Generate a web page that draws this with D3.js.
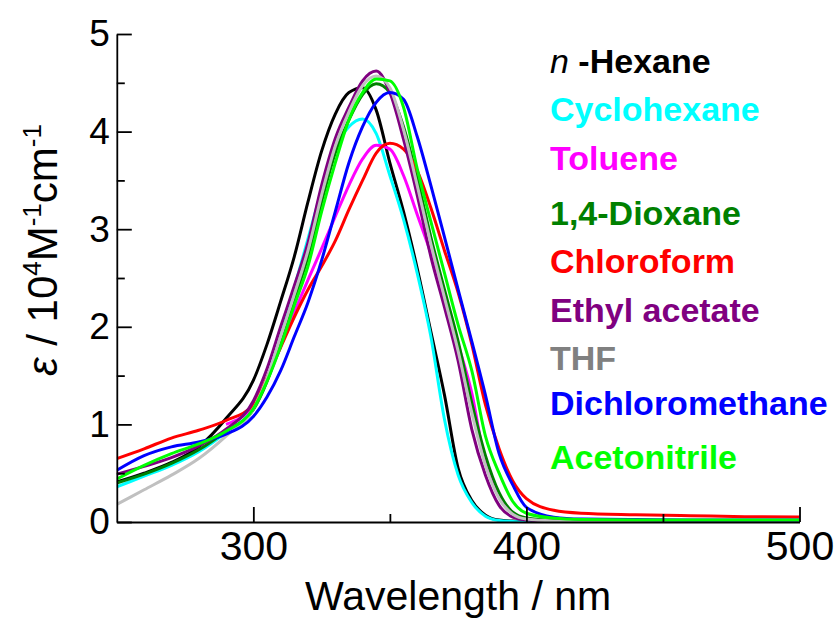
<!DOCTYPE html>
<html>
<head>
<meta charset="utf-8">
<script src="https://cdn.jsdelivr.net/npm/d3@7"></script>
<style>
  html, body { margin: 0; padding: 0; background: #fff; }
  svg { display: block; font-family: "Liberation Sans", Arial, sans-serif; }
</style>
</head>
<body>
<svg id="chart" width="837" height="619"></svg>
<script>
// ---------------- data ----------------
const wavelengths = [250,260,270,280,290,300,305,310,315,320,325,330,335,340,345,350,355,360,365,370,375,380,385,390,395,400,410,420,440,460,480,500];

const hexane = [0.41,0.50,0.61,0.77,1.06,1.45,1.82,2.26,2.72,3.28,3.80,4.18,4.40,4.45,4.22,3.68,3.18,2.60,1.95,1.30,0.55,0.22,0.07,0.02,0.01,0.005,0,0,0,0,0,0];
const cyclohexane = [0.36,0.47,0.58,0.72,0.92,1.17,1.47,1.90,2.40,2.90,3.40,3.83,4.05,4.13,3.98,3.55,3.10,2.55,1.90,1.05,0.48,0.20,0.06,0.015,0.005,0,0,0,0,0,0,0];
const toluene = [null,null,null,null,1.00,1.20,1.45,1.80,2.15,2.48,2.80,3.13,3.45,3.72,3.86,3.82,3.55,3.15,2.75,2.28,1.82,1.32,0.60,0.28,0.09,0.03,0.01,0.005,0,0,0,0];
const dioxane = [0.40,0.49,0.60,0.74,0.93,1.15,1.44,1.85,2.28,2.72,3.28,3.78,4.12,4.38,4.49,4.40,4.05,3.52,2.92,2.38,1.85,1.22,0.68,0.30,0.10,0.04,0.015,0.01,0.005,0.005,0.005,0.005];
const chloroform = [0.65,0.75,0.86,0.94,1.04,1.20,1.48,1.79,2.10,2.38,2.62,2.88,3.20,3.50,3.78,3.88,3.82,3.60,3.22,2.78,2.35,1.82,1.20,0.75,0.42,0.24,0.12,0.09,0.075,0.065,0.055,0.05];
const ethylAcetate = [0.49,0.57,0.66,0.78,0.95,1.24,1.57,2.00,2.42,2.86,3.45,3.93,4.25,4.52,4.62,4.40,3.92,3.35,2.72,2.20,1.65,0.95,0.48,0.17,0.05,0.02,0.01,0.005,0,0,0,0];
const thf = [0.18,0.33,0.48,0.65,0.88,1.16,1.47,1.90,2.33,2.78,3.35,3.85,4.20,4.47,4.57,4.45,4.02,3.45,2.85,2.30,1.75,1.12,0.58,0.24,0.08,0.03,0.01,0.005,0,0,0,0];
const dichloromethane = [0.53,0.68,0.77,0.82,0.90,1.08,1.28,1.55,1.90,2.25,2.68,3.18,3.68,4.05,4.30,4.40,4.33,3.95,3.45,2.92,2.38,1.85,1.30,0.70,0.38,0.15,0.05,0.03,0.025,0.02,0.02,0.02];
const acetonitrile = [0.44,0.58,0.70,0.80,0.93,1.16,1.44,1.80,2.22,2.62,3.18,3.68,4.12,4.40,4.54,4.52,4.25,3.62,3.08,2.55,2.02,1.55,0.88,0.50,0.21,0.09,0.04,0.025,0.02,0.02,0.02,0.02];

const solventNames = ["n-Hexane","Cyclohexane","Toluene","1,4-Dioxane","Chloroform","Ethyl acetate","THF","Dichloromethane","Acetonitrile"];
const seriesValues = [hexane, cyclohexane, toluene, dioxane, chloroform, ethylAcetate, thf, dichloromethane, acetonitrile];

const xTickLabels = [300, 400, 500];
const xMinorTicks = [350, 450];
const yTickLabels = [0, 1, 2, 3, 4, 5];
const yMinorTicks = [0.5, 1.5, 2.5, 3.5, 4.5];

// ---------------- styles / layout ----------------
const lineColors = ["#000000","#00FFFF","#FF00FF","#008000","#FF0000","#800080","#C0C0C0","#0000FF","#00FF00"];
const textColors = ["#000000","#00FFFF","#FF00FF","#008000","#FF0000","#800080","#808080","#0000FF","#00FF00"];
const legendBaselines = [73,121,170,225,273,322,370,415,469];

const svg = d3.select("#chart");
const plotLeft = 116.8, plotRight = 799.5, plotTop = 34, plotBottom = 522;

const x = d3.scaleLinear().domain([250, 500]).range([plotLeft, plotRight]);
const y = d3.scaleLinear().domain([0, 5]).range([plotBottom, plotTop]);

svg.append("defs").append("clipPath").attr("id", "plotclip")
  .append("rect").attr("x", plotLeft).attr("y", 0).attr("width", plotRight - plotLeft + 2).attr("height", plotBottom + 1);

const line = d3.line()
  .defined(d => d[1] != null)
  .x(d => x(d[0]))
  .y(d => y(d[1]))
  .curve(d3.curveMonotoneX);

const plot = svg.append("g").attr("clip-path", "url(#plotclip)");
seriesValues.forEach((vals, i) => {
  const pts = wavelengths.map((w, j) => [w, vals[j]]);
  plot.append("path")
    .datum(pts)
    .attr("fill", "none")
    .attr("stroke", lineColors[i])
    .attr("stroke-width", 3)
    .attr("stroke-linejoin", "round")
    .attr("d", line);
});

// ---------------- axes ----------------
const axisFont = '"Liberation Sans", Arial, sans-serif';

const xAxis = svg.append("g").attr("transform", `translate(0,${plotBottom})`)
  .call(d3.axisBottom(x).tickValues(xTickLabels).tickSize(-15).tickSizeOuter(0).tickPadding(9).tickFormat(d3.format("d")));
xAxis.selectAll("text").attr("font-size", 41).attr("font-family", axisFont).attr("fill", "#000");
const xMinor = svg.append("g").attr("transform", `translate(0,${plotBottom})`)
  .call(d3.axisBottom(x).tickValues(xMinorTicks).tickSize(-8).tickSizeOuter(0).tickFormat(""));
xMinor.select(".domain").remove();

const yAxis = svg.append("g").attr("transform", `translate(${plotLeft},0)`)
  .call(d3.axisLeft(y).tickValues(yTickLabels).tickSize(-15).tickSizeOuter(0).tickPadding(7).tickFormat(d3.format("d")));
yAxis.selectAll("text").attr("font-size", 37).attr("font-family", axisFont).attr("fill", "#000");
const yMinor = svg.append("g").attr("transform", `translate(${plotLeft},0)`)
  .call(d3.axisLeft(y).tickValues(yMinorTicks).tickSize(-8).tickSizeOuter(0).tickFormat(""));
yMinor.select(".domain").remove();

svg.selectAll(".domain, .tick line").attr("stroke", "#000").attr("stroke-width", 1.8);

// x title
svg.append("text")
  .attr("x", (plotLeft + plotRight) / 2).attr("y", 610)
  .attr("text-anchor", "middle")
  .attr("font-size", 41).attr("fill", "#000")
  .text("Wavelength / nm");

// y title
const yt = svg.append("text")
  .attr("transform", "translate(57,250) rotate(-90)")
  .attr("text-anchor", "middle")
  .attr("font-size", 42).attr("fill", "#000");
yt.append("tspan").attr("font-style", "italic").text("ε");
yt.append("tspan").text(" / 10");
yt.append("tspan").attr("font-size", 26).attr("dy", -16).text("4");
yt.append("tspan").attr("dy", 16).text("M");
yt.append("tspan").attr("font-size", 26).attr("dy", -16).text("-1");
yt.append("tspan").attr("dy", 16).text("cm");
yt.append("tspan").attr("font-size", 26).attr("dy", -16).text("-1");

// legend labels
const legend = svg.append("g");
solventNames.forEach((name, i) => {
  const t = legend.append("text")
    .attr("x", 550).attr("y", legendBaselines[i])
    .attr("font-size", 34).attr("font-weight", "bold")
    .attr("fill", textColors[i]);
  if (name.startsWith("n-")) {
    t.append("tspan").attr("font-style", "italic").attr("font-weight", "normal").text("n");
    t.append("tspan").text(" -" + name.slice(2));
  } else {
    t.text(name);
  }
});
</script>
</body>
</html>
